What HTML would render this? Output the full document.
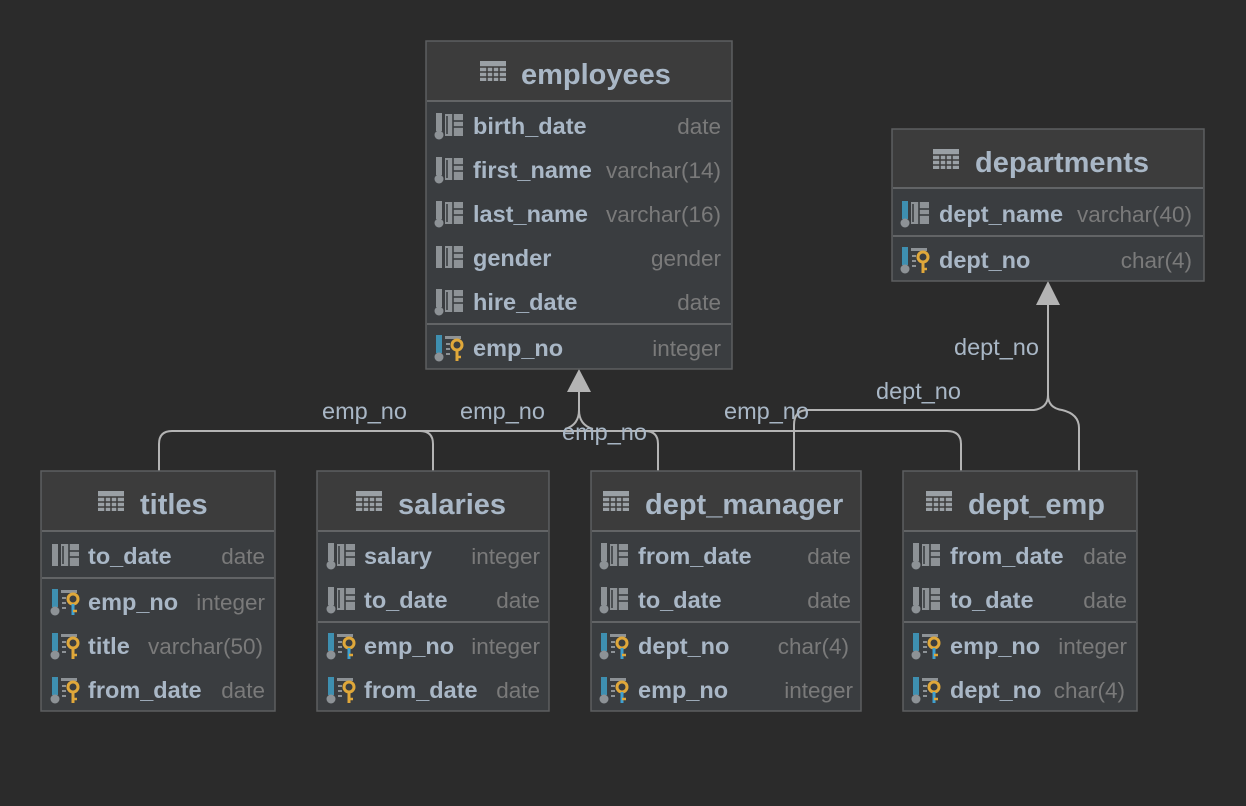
<!DOCTYPE html>
<html><head><meta charset="utf-8"><style>
html,body{margin:0;padding:0;background:#2b2b2b;}
svg{display:block;}
.n{font:bold 23.5px "Liberation Sans",sans-serif;fill:#a9b7c6;}
.ty{font:22.5px "Liberation Sans",sans-serif;fill:#7a7a7a;text-anchor:end;}
.h{font:bold 29px "Liberation Sans",sans-serif;fill:#a9b7c6;}
.l{font:23.5px "Liberation Sans",sans-serif;fill:#a9b7c6;}
.box{fill:#3a3d40;stroke:#5c5e60;stroke-width:1.5;}
.hd{fill:#3c3c3c;}
.sep{stroke:#626466;stroke-width:2;}
.c{fill:none;stroke:#b4b4b4;stroke-width:2;}
</style></head><body>
<svg width="1246" height="806" viewBox="0 0 1246 806" xmlns="http://www.w3.org/2000/svg">
<defs>
<g id="grid"><rect x="9" y="-12" width="18" height="22" fill="#8d9296"/><g stroke="#3a3d40" stroke-width="1.6"><line x1="17" y1="-12" x2="17" y2="10"/><line x1="17" y1="-5" x2="27" y2="-5"/><line x1="17" y1="1" x2="27" y2="1"/><line x1="11" y1="-10" x2="11" y2="8"/></g></g>
<g id="col"><rect x="0" y="-13" width="6" height="18" fill="#8d9296"/><circle cx="3" cy="9" r="4.5" fill="#8d9296"/><use href="#grid"/></g>
<g id="colp"><rect x="0" y="-12" width="6" height="22" fill="#8d9296"/><use href="#grid"/></g>
<g id="colb"><rect x="0" y="-13" width="6" height="18" fill="#3e8fb0"/><circle cx="3" cy="9" r="4.5" fill="#8d9296"/><use href="#grid"/></g>
<g id="keyo"><rect x="0" y="-13" width="6" height="18" fill="#3e8fb0"/><circle cx="3" cy="9" r="4.5" fill="#8d9296"/><rect x="9" y="-12" width="16" height="3" fill="#8d9296"/><g stroke="#8d9296" stroke-width="2"><line x1="10" y1="-4" x2="14" y2="-4"/><line x1="10" y1="1" x2="14" y2="1"/><line x1="10" y1="6" x2="14" y2="6"/></g><circle cx="21" cy="-3" r="5" fill="none" stroke="#e0a83a" stroke-width="3"/><line x1="21" y1="2" x2="21" y2="13" stroke="#e0a83a" stroke-width="3"/><line x1="21" y1="9" x2="25" y2="9" stroke="#e0a83a" stroke-width="2.5"/></g>
<g id="keyb"><rect x="0" y="-13" width="6" height="18" fill="#3e8fb0"/><circle cx="3" cy="9" r="4.5" fill="#8d9296"/><rect x="9" y="-12" width="16" height="3" fill="#8d9296"/><g stroke="#8d9296" stroke-width="2"><line x1="10" y1="-4" x2="14" y2="-4"/><line x1="10" y1="1" x2="14" y2="1"/><line x1="10" y1="6" x2="14" y2="6"/></g><circle cx="21" cy="-3" r="5" fill="none" stroke="#e0a83a" stroke-width="3"/><line x1="21" y1="2" x2="21" y2="13" stroke="#3ea0d0" stroke-width="3"/><line x1="21" y1="9" x2="25" y2="9" stroke="#e0a83a" stroke-width="2.5"/></g>
<g id="tbl"><rect x="0" y="0" width="26" height="20" fill="#9aa0a5"/><g stroke="#3c3c3c" stroke-width="1.5"><line x1="0" y1="6" x2="26" y2="6"/><line x1="0" y1="11" x2="26" y2="11"/><line x1="0" y1="16" x2="26" y2="16"/><line x1="7" y1="6" x2="7" y2="20"/><line x1="13" y1="6" x2="13" y2="20"/><line x1="19" y1="6" x2="19" y2="20"/></g></g>
</defs>

<!-- connectors -->
<path class="c" d="M159 471 V444 Q159 431 172 431 H420 Q433 431 433 444 V471"/>
<path class="c" d="M420 431 H645 Q658 431 658 444 V471"/>
<path class="c" d="M645 431 H947 Q961 431 961 444 V471"/>
<path class="c" d="M579 392 V410 Q579 425 565 429 M579 410 Q579 425 593 429"/>
<path class="c" d="M794 471 V425 Q794 410 808 410 H1034 Q1048 408 1048 395 V300"/>
<path class="c" d="M1048 395 Q1048 408 1062 410 Q1079 414 1079 428 V471"/>
<polygon points="579,369 567,392 591,392" fill="#b4b4b4"/>
<polygon points="1048,281 1036,305 1060,305" fill="#b4b4b4"/>
<text class="l" x="322" y="419">emp_no</text>
<text class="l" x="460" y="419">emp_no</text>
<text class="l" x="562" y="440">emp_no</text>
<text class="l" x="724" y="419">emp_no</text>
<text class="l" x="954" y="355">dept_no</text>
<text class="l" x="876" y="399">dept_no</text>

<!-- employees -->
<rect class="box" x="426" y="41" width="306" height="328"/>
<rect class="hd" x="427" y="42" width="304" height="58"/>
<line class="sep" x1="427" y1="101" x2="731" y2="101"/>
<use href="#tbl" x="480" y="61"/>
<text class="h" x="521" y="84">employees</text>
<use href="#col" x="436" y="126"/><text class="n" x="473" y="134">birth_date</text><text class="ty" x="721" y="134">date</text>
<use href="#col" x="436" y="170"/><text class="n" x="473" y="178">first_name</text><text class="ty" x="721" y="178">varchar(14)</text>
<use href="#col" x="436" y="214"/><text class="n" x="473" y="222">last_name</text><text class="ty" x="721" y="222">varchar(16)</text>
<use href="#colp" x="436" y="258"/><text class="n" x="473" y="266">gender</text><text class="ty" x="721" y="266">gender</text>
<use href="#col" x="436" y="302"/><text class="n" x="473" y="310">hire_date</text><text class="ty" x="721" y="310">date</text>
<line class="sep" x1="427" y1="324" x2="731" y2="324"/>
<use href="#keyo" x="436" y="348"/><text class="n" x="473" y="356">emp_no</text><text class="ty" x="721" y="356">integer</text>

<!-- departments -->
<rect class="box" x="892" y="129" width="312" height="152"/>
<rect class="hd" x="893" y="130" width="310" height="57"/>
<line class="sep" x1="893" y1="188" x2="1203" y2="188"/>
<use href="#tbl" x="933" y="149"/>
<text class="h" x="975" y="172">departments</text>
<use href="#colb" x="902" y="214"/><text class="n" x="939" y="222">dept_name</text><text class="ty" x="1192" y="222">varchar(40)</text>
<line class="sep" x1="893" y1="236" x2="1203" y2="236"/>
<use href="#keyo" x="902" y="260"/><text class="n" x="939" y="268">dept_no</text><text class="ty" x="1192" y="268">char(4)</text>

<!-- titles -->
<rect class="box" x="41" y="471" width="234" height="240"/>
<rect class="hd" x="42" y="472" width="232" height="58"/>
<line class="sep" x1="42" y1="531" x2="274" y2="531"/>
<use href="#tbl" x="98" y="491"/>
<text class="h" x="140" y="514">titles</text>
<use href="#colp" x="52" y="556"/><text class="n" x="88" y="564">to_date</text><text class="ty" x="265" y="564">date</text>
<line class="sep" x1="42" y1="578" x2="274" y2="578"/>
<use href="#keyb" x="52" y="602"/><text class="n" x="88" y="610">emp_no</text><text class="ty" x="265" y="610">integer</text>
<use href="#keyo" x="52" y="646"/><text class="n" x="88" y="654">title</text><text class="ty" x="263" y="654">varchar(50)</text>
<use href="#keyo" x="52" y="690"/><text class="n" x="88" y="698">from_date</text><text class="ty" x="265" y="698">date</text>

<!-- salaries -->
<rect class="box" x="317" y="471" width="232" height="240"/>
<rect class="hd" x="318" y="472" width="230" height="58"/>
<line class="sep" x1="318" y1="531" x2="548" y2="531"/>
<use href="#tbl" x="356" y="491"/>
<text class="h" x="398" y="514">salaries</text>
<use href="#col" x="328" y="556"/><text class="n" x="364" y="564">salary</text><text class="ty" x="540" y="564">integer</text>
<use href="#col" x="328" y="600"/><text class="n" x="364" y="608">to_date</text><text class="ty" x="540" y="608">date</text>
<line class="sep" x1="318" y1="622" x2="548" y2="622"/>
<use href="#keyb" x="328" y="646"/><text class="n" x="364" y="654">emp_no</text><text class="ty" x="540" y="654">integer</text>
<use href="#keyo" x="328" y="690"/><text class="n" x="364" y="698">from_date</text><text class="ty" x="540" y="698">date</text>

<!-- dept_manager -->
<rect class="box" x="591" y="471" width="270" height="240"/>
<rect class="hd" x="592" y="472" width="268" height="58"/>
<line class="sep" x1="592" y1="531" x2="860" y2="531"/>
<use href="#tbl" x="603" y="491"/>
<text class="h" x="645" y="514">dept_manager</text>
<use href="#col" x="601" y="556"/><text class="n" x="638" y="564">from_date</text><text class="ty" x="851" y="564">date</text>
<use href="#col" x="601" y="600"/><text class="n" x="638" y="608">to_date</text><text class="ty" x="851" y="608">date</text>
<line class="sep" x1="592" y1="622" x2="860" y2="622"/>
<use href="#keyb" x="601" y="646"/><text class="n" x="638" y="654">dept_no</text><text class="ty" x="849" y="654">char(4)</text>
<use href="#keyb" x="601" y="690"/><text class="n" x="638" y="698">emp_no</text><text class="ty" x="853" y="698">integer</text>

<!-- dept_emp -->
<rect class="box" x="903" y="471" width="234" height="240"/>
<rect class="hd" x="904" y="472" width="232" height="58"/>
<line class="sep" x1="904" y1="531" x2="1136" y2="531"/>
<use href="#tbl" x="926" y="491"/>
<text class="h" x="968" y="514">dept_emp</text>
<use href="#col" x="913" y="556"/><text class="n" x="950" y="564">from_date</text><text class="ty" x="1127" y="564">date</text>
<use href="#col" x="913" y="600"/><text class="n" x="950" y="608">to_date</text><text class="ty" x="1127" y="608">date</text>
<line class="sep" x1="904" y1="622" x2="1136" y2="622"/>
<use href="#keyb" x="913" y="646"/><text class="n" x="950" y="654">emp_no</text><text class="ty" x="1127" y="654">integer</text>
<use href="#keyb" x="913" y="690"/><text class="n" x="950" y="698">dept_no</text><text class="ty" x="1125" y="698">char(4)</text>
</svg>
</body></html>
